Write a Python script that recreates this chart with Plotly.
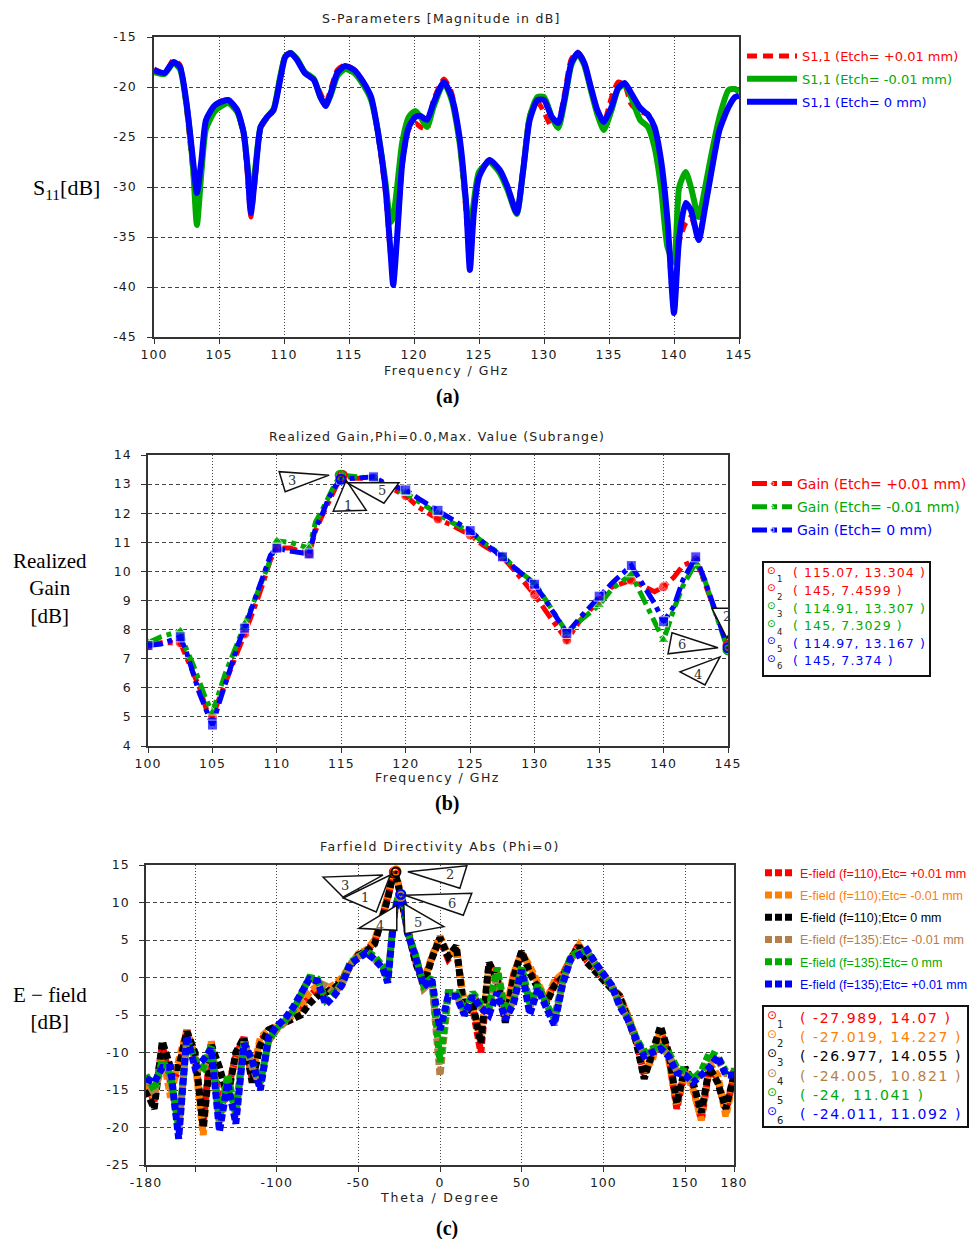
import plotly.graph_objects as go

W, H = 971, 1239


def px(x):
    return x / W


def py(y):
    return 1 - y / H


# ---------------- (a) S11 data ----------------
freq_a = [100, 100.8, 101.5, 102.0, 102.5, 103.0, 103.3, 103.65, 104.0, 104.7,
          105.7, 106.4, 106.9, 107.2, 107.45, 107.8, 108.2, 108.7, 109.2, 109.7,
          110.1, 110.5, 111.0, 111.6, 112.3, 112.8, 113.2, 113.6, 114.1, 114.7,
          115.4, 116.1, 116.7, 117.2, 117.8, 118.2, 118.4, 118.7, 119.1, 119.6,
          120.1, 120.5, 121.0, 121.5, 122.3, 122.9, 123.5, 124.0, 124.3, 124.6,
          125.0, 125.8, 126.6, 127.2, 127.9, 128.4, 128.9, 129.5, 130.0, 130.6,
          131.1, 131.6, 132.1, 132.6, 133.1, 133.6, 134.1, 134.6, 135.2, 135.7,
          136.2, 136.7, 137.4, 138.0, 138.5, 139.0, 139.5, 140.0, 140.4, 140.9,
          141.3, 141.9, 142.4, 142.9, 143.5, 144.2, 144.7, 145.0]
s11_plus = [-18.2, -18.6, -17.3, -17.8, -22.2, -28.5, -32.0, -28.0, -23.6, -21.7,
            -21.3, -22.4, -25.0, -29.0, -33.0, -29.0, -24.2, -23.1, -22.3, -19.0,
            -16.8, -16.6, -17.2, -18.5, -19.2, -20.6, -21.6, -20.2, -18.3, -17.8,
            -18.3, -19.5, -21.0, -24.5, -30.5, -36.8, -38.5, -35.0, -27.8, -24.2,
            -23.6, -24.0, -24.2, -21.3, -19.2, -20.6, -25.5, -32.5, -37.5, -32.0,
            -28.8, -27.3, -28.4, -30.0, -32.3, -28.0, -22.8, -21.5, -22.5, -24.0,
            -23.5, -20.5, -17.2, -16.5, -17.5, -20.0, -22.3, -23.5, -21.0, -19.5,
            -19.8, -21.7, -22.5, -22.7, -24.2, -27.5, -34.0, -42.5, -35.5, -33.6,
            -33.0, -35.0, -32.0, -28.3, -24.3, -22.0, -21.0, -20.9]
s11_minus = [-18.5, -18.7, -17.6, -18.2, -21.8, -28.0, -33.8, -28.5, -24.2, -22.4,
             -21.6, -22.5, -24.6, -28.0, -31.5, -28.0, -24.0, -23.0, -22.2, -19.0,
             -16.9, -16.6, -17.2, -18.5, -19.2, -21.0, -21.8, -20.8, -18.9, -18.2,
             -18.6, -19.8, -21.3, -24.3, -29.5, -33.5, -33.0, -30.0, -25.5, -23.0,
             -22.4, -23.0, -24.0, -22.0, -19.6, -21.3, -25.5, -31.5, -35.0, -31.5,
             -28.5, -27.5, -28.6, -30.3, -32.7, -28.3, -23.0, -21.0, -21.0, -23.0,
             -24.1, -21.3, -17.8, -16.7, -17.8, -20.3, -22.7, -24.3, -22.3, -20.2,
             -19.7, -21.0, -23.3, -24.0, -26.0, -30.0, -36.0, -37.5, -30.0, -28.5,
             -30.0, -33.0, -30.0, -26.6, -23.0, -20.3, -20.2, -20.5]
s11_zero = [-18.3, -18.6, -17.5, -18.0, -21.6, -27.3, -30.6, -27.3, -23.3, -21.8,
            -21.3, -22.3, -24.6, -28.3, -32.6, -28.6, -24.0, -23.0, -22.3, -19.3,
            -17.0, -16.6, -17.3, -18.6, -19.3, -21.0, -21.9, -20.6, -18.6, -17.9,
            -18.3, -19.5, -21.0, -24.3, -30.0, -36.6, -39.8, -35.0, -27.6, -24.0,
            -23.0, -22.9, -23.3, -21.6, -19.5, -21.0, -25.0, -31.6, -38.3, -32.6,
            -29.0, -27.3, -28.3, -30.0, -32.6, -28.3, -23.3, -21.3, -21.3, -23.0,
            -23.6, -21.0, -17.6, -16.6, -17.6, -20.0, -22.3, -23.5, -22.0, -20.1,
            -19.6, -20.6, -22.1, -22.8, -24.0, -27.3, -33.3, -42.6, -35.0, -31.6,
            -32.3, -35.3, -32.0, -28.3, -24.3, -22.0, -21.0, -20.9]
names_a = ["S1,1 (Etch= +0.01 mm)", "S1,1 (Etch= -0.01 mm)", "S1,1 (Etch= 0 mm)"]

# ---------------- (b) Realized gain data ----------------
freq_b = [100, 101, 102.5, 103, 103.5, 104, 104.5, 105, 105.5, 106,
          106.5, 107, 107.5, 108, 108.5, 109, 109.5, 110, 111, 112.5,
          113, 113.5, 114, 114.5, 115, 116, 117.5, 118.5, 120, 121,
          122.5, 123.5, 125, 126, 127.5, 128.5, 130, 131, 132.5, 133.5,
          135, 136, 137.5, 138.5, 139.3, 140, 140.8, 141.5, 142.5, 143.2,
          144, 145]
gain_plus = [7.45, 7.55, 7.55, 7.0, 6.5, 6.0, 5.3, 5.0, 5.6, 6.2,
             6.8, 7.3, 7.85, 8.4, 9.05, 9.7, 10.4, 10.8, 10.8, 10.6,
             11.4, 11.9, 12.4, 12.9, 13.30, 13.2, 13.2, 12.95, 12.6, 12.2,
             11.8, 11.6, 11.25, 10.9, 10.5, 10.0, 9.2, 8.55, 7.64, 8.3,
             9.0, 9.47, 9.7, 9.47, 9.3, 9.47, 9.8, 10.2, 10.4, 9.6,
             8.7, 7.46]
gain_minus = [7.55, 7.75, 7.95, 7.3, 6.8, 6.2, 5.6, 5.15, 5.9, 6.5,
              7.05, 7.6, 8.2, 8.7, 9.25, 9.8, 10.4, 11.05, 11.0, 10.8,
              11.7, 12.1, 12.6, 13.0, 13.31, 13.25, 13.2, 12.9, 12.7, 12.4,
              12.0, 11.7, 11.35, 11.0, 10.55, 10.1, 9.6, 8.9, 7.9, 8.3,
              8.84, 9.4, 9.9, 9.0, 8.3, 7.64, 8.7, 9.5, 10.3, 9.7,
              8.6, 7.30]
gain_zero = [7.45, 7.5, 7.75, 7.2, 6.5, 5.8, 5.25, 4.72, 5.45, 6.15,
             6.8, 7.5, 8.05, 8.65, 9.35, 9.9, 10.55, 10.8, 10.7, 10.6,
             11.5, 11.95, 12.5, 12.9, 13.17, 13.2, 13.25, 13.0, 12.8, 12.5,
             12.1, 11.8, 11.4, 11.0, 10.5, 10.1, 9.56, 8.9, 7.87, 8.4,
             9.15, 9.6, 10.2, 9.5, 8.9, 8.27, 8.8, 9.7, 10.5, 9.7,
             8.7, 7.37]
names_b = ["Gain (Etch= +0.01 mm)", "Gain (Etch= -0.01 mm)", "Gain (Etch= 0 mm)"]
mk_b_x = [115.07, 145, 114.91, 145, 114.97, 145]
mk_b_y = [13.304, 7.4599, 13.307, 7.3029, 13.167, 7.374]

# ---------------- (c) Farfield data ----------------
theta = [-180, -175, -170, -165, -160, -155, -150, -145, -140, -135,
         -130, -125, -120, -115, -110, -105, -100, -95, -90, -85,
         -80, -75, -70, -65, -60, -55, -50, -45, -40, -35,
         -32, -30, -28, -26, -24, -22, -20, -15, -10, -5,
         0, 5, 10, 15, 20, 25, 30, 35, 40, 45,
         50, 55, 60, 65, 70, 75, 80, 85, 90, 95,
         100, 105, 110, 115, 120, 125, 130, 135, 140, 145,
         150, 155, 160, 165, 170, 175, 180]
e110_p = [-14, -16.5, -9, -14, -12.5, -7, -10.5, -19.5, -8.5, -17,
          -15, -10.5, -8, -13.5, -8.5, -7, -6.5, -6, -5.5, -4.5,
          -2.5, -1.5, -2, -1.2, -0.3, 1.6, 3, 3.6, 4.8, 8.3,
          10.8, 12.8, 14.07, 12.9, 10.6, 8.6, 6.6, 2.2, -0.8, 2.6,
          5.2, 2.5, 3.8, -4, -4, -10, 1.8, 0, -5.5, 0.2,
          3.4, 1, -1.2, -3.2, -0.8, 0.3, 2.5, 4.4, 2.2, 1,
          -0.3, -1.3, -2.4, -5.2, -8.2, -13, -10.5, -7, -10.5, -17.5,
          -12.2, -14.5, -19, -12, -13.5, -18, -13]
e110_m = [-14.5, -16, -10, -16, -11, -7, -11, -21, -8.5, -19.5,
          -14, -11, -8.5, -13, -8, -7, -6.5, -6, -5, -4,
          -2, -1, -1.5, -1, 0, 1.8, 3.2, 3.7, 5, 8.5,
          11, 13, 14.2, 13, 10.8, 8.8, 6.8, 2.5, -0.5, 2.8,
          5.5, 3, 3.5, -3.5, -4, -8, 1.5, 0.5, -5, 0.5,
          3.3, 1.5, -1, -3, -0.5, 0.5, 2.5, 4.3, 2.5, 1,
          -0.2, -1.2, -2.5, -5, -8, -12.5, -11, -7, -11, -17,
          -12.5, -15, -19, -11.5, -13, -18.5, -13.5]
e110_0 = [-15, -17.5, -8.5, -12, -12, -7.2, -10, -20, -9, -12,
          -16, -10, -8, -14, -9, -7, -6.5, -6, -5.5, -5,
          -3.5, -2.5, -2, -1.5, -0.5, 1.5, 3, 3.5, 4.5, 8,
          10.5, 12.5, 14.05, 12.8, 10.5, 8.5, 6.5, 2, -1, 2.5,
          5.3, 2.8, 4.2, -5, -3.5, -8.7, 2, -0.3, -6, 0,
          3.5, 0.6, -1.6, -3.5, -1.1, 0, 2.4, 4.2, 2, 0.8,
          -0.5, -1.5, -2.5, -5.5, -8.5, -13.5, -10, -6.5, -10, -16.8,
          -12, -14, -18, -12, -14, -17.5, -13]
e135_m = [-13.5, -15.5, -11.5, -13.5, -20.5, -8.2, -11.5, -12.5, -9.5, -19.5,
          -13.5, -18.5, -8.5, -12, -14.5, -8.5, -7, -6, -4.5, -2.5,
          0, -0.5, -1.1, -2, -1, 1.8, 2.8, 3.3, 2.5, 1.5,
          0, 5.2, 8.6, 10.3, 10.82, 9.3, 6, 3, -1.5, -0.5,
          -13.1, -2.5, -2.3, -4.8, -2.2, -4, -4.5, 0.5, -5, -3.2,
          1.2, -4, -1.2, -3.8, -6, -0.8, 2.6, 3.3, 3.5, 1.8,
          0.3, -1, -3.6, -5.5, -8.2, -10.3, -9.8, -9.3, -10.3, -12.5,
          -12.8, -13.8, -12.8, -11, -11, -12.8, -12.8]
e135_0 = [-13, -15, -11, -13, -20, -8, -11, -12, -9, -19,
          -13, -18, -8.5, -11.5, -14, -8.5, -6.8, -5.8, -4.5, -2.2,
          0, -0.2, -3, -2, -0.8, 2, 2.8, 3.5, 2.8, 1.5,
          -0.3, 5.5, 8.8, 10.5, 11.04, 9.6, 6.2, 3, -1, 0,
          -11.3, -2, -2, -4.5, -2, -3.5, -4, 1.3, -4.5, -3,
          1.5, -3.5, -1, -3.5, -5.5, -0.5, 2.8, 3.5, 3.5, 1.8,
          0.2, -1.2, -3.5, -5.3, -8, -10, -9.5, -9.2, -10, -12,
          -12.5, -13.5, -12.5, -10, -10.5, -12.5, -12.5]
e135_p = [-13.5, -14, -12, -12, -21.5, -7.8, -12, -11, -9.5, -20.5,
          -14, -19.5, -8.8, -11, -15, -8, -6.5, -5.5, -4, -2,
          -0.2, -0.5, -3.6, -2.5, -1, 1.8, 2.5, 3.3, 2.4, 1.2,
          -0.7, 5, 8.5, 10.3, 11.09, 9.5, 6, 2.8, -1.2, -0.3,
          -7, -2.5, -2.5, -5, -2.5, -4, -5, -2, -5.6, -3.5,
          1.0, -4.9, -1.5, -4, -6.3, -1, 2.5, 3, 3.7, 2,
          0.4, -1, -3.8, -5.6, -8.2, -10.5, -10, -9.5, -10.5, -12.7,
          -13, -14, -13, -12, -10.5, -13, -13]
names_c = ["E-field (f=110),Etc= +0.01 mm", "E-field (f=110);Etc= -0.01 mm",
           "E-field (f=110);Etc= 0 mm", "E-field (f=135):Etc= -0.01 mm",
           "E-field (f=135):Etc= 0 mm", "E-field (f=135);Etc= +0.01 mm"]
mk_c_x = [-27.989, -27.019, -26.977, -24.005, -24, -24.011]
mk_c_y = [14.07, 14.227, 14.055, 10.821, 11.041, 11.092]

# ---------------- styles ----------------
RED, GREEN, BLUE = "#FF0000", "#00AA00", "#0000FF"
ORANGE, BLACK, BROWN = "#FF8000", "#000000", "#B4804A"
cols_a = [RED, GREEN, BLUE]
cols_b = [RED, GREEN, BLUE]
cols_c = [RED, ORANGE, BLACK, BROWN, GREEN, BLUE]
mkcols_b = [RED, RED, GREEN, GREEN, BLUE, BLUE]
TICKFONT = dict(family="DejaVu Sans", size=12.5, color="#1a1a1a")
SANS = "DejaVu Sans"
SERIF = "Liberation Serif"


def span(text, color):
    return "<span style='color:%s'>%s</span>" % (color, text)


def wide(text, ls=1.2):
    return "<span style='letter-spacing:%gpx'>%s</span>" % (ls, text)


fig = go.Figure()

# (a)
for k, (ys, nm, c, dash, w) in enumerate(zip([s11_plus, s11_minus, s11_zero], names_a, cols_a,
                                             ["10px,6px", "solid", "solid"], [5, 6, 6])):
    fig.add_trace(go.Scatter(x=freq_a, y=ys, mode="lines", name=span(nm, c),
                             legendgroup="a%d" % k,
                             line=dict(color=c, width=w, dash=dash, shape="spline", smoothing=0.6),
                             xaxis="x", yaxis="y", legend="legend"))

# (b)
msize = [10 if abs(f / 2.5 - round(f / 2.5)) < 1e-6 else 0 for f in freq_b]
for k, (ys, nm, c, sym) in enumerate(zip([gain_plus, gain_minus, gain_zero], names_b, cols_b,
                                         ["circle", "triangle-up", "square"])):
    fig.add_trace(go.Scatter(x=freq_b, y=ys, mode="lines+markers", name=span(nm, c),
                             legendgroup="b%d" % k,
                             line=dict(color=c, width=5, dash="dashdot"),
                             marker=dict(symbol=sym, size=msize, color=c),
                             xaxis="x2", yaxis="y2", legend="legend2"))
fig.add_trace(go.Scatter(x=mk_b_x, y=mk_b_y, mode="markers", showlegend=False,
                         marker=dict(symbol="circle-open-dot", size=9, color=mkcols_b,
                                     line=dict(width=2, color=mkcols_b)),
                         xaxis="x2", yaxis="y2"))

# (c)
for k, (ys, nm, c) in enumerate(zip([e110_p, e110_m, e110_0, e135_m, e135_0, e135_p], names_c, cols_c)):
    fig.add_trace(go.Scatter(x=theta, y=ys, mode="lines", name=span(nm, c),
                             legendgroup="c%d" % k,
                             line=dict(color=c, width=7, dash="7px,3px"),
                             xaxis="x3", yaxis="y3", legend="legend3"))
fig.add_trace(go.Scatter(x=mk_c_x, y=mk_c_y, mode="markers", showlegend=False,
                         marker=dict(symbol="circle-open-dot", size=9, color=cols_c,
                                     line=dict(width=2, color=cols_c)),
                         xaxis="x3", yaxis="y3"))


def axis(domain, rng, tickvals, anchor, griddash, minor=None, standoff=None):
    d = dict(domain=domain, range=rng, tickvals=tickvals,
             ticktext=[wide("%g" % v, 1.0) for v in tickvals],
             anchor=anchor, automargin=False,
             showline=True, linecolor="#333", linewidth=1.5, mirror=True,
             ticks="outside", ticklen=5, tickcolor="#333",
             showgrid=True, gridcolor="#444", gridwidth=1, griddash=griddash,
             zeroline=False, tickfont=TICKFONT, fixedrange=True)
    if standoff is not None:
        d["ticklabelstandoff"] = standoff
    if minor is not None:
        d["minor"] = dict(tickvals=minor, showgrid=True, gridcolor="#444", gridwidth=1,
                          griddash=griddash, ticks="outside", ticklen=5, tickcolor="#333")
    return d


xt_f = list(range(100, 146, 5))
fig.update_layout(
    xaxis=axis([px(154), px(739)], [100, 145], xt_f, "y", "1px,2px"),
    yaxis=axis([py(337), py(37)], [-45, -15], list(range(-45, -14, 5)), "x", "4px,3px", standoff=8),
    xaxis2=axis([px(148), px(728)], [100, 145], xt_f, "y2", "1px,2px"),
    yaxis2=axis([py(746), py(455)], [4, 14], list(range(4, 15)), "x2", "4px,3px", standoff=7),
    xaxis3=axis([px(146), px(734)], [-180, 180], [-180, -100, -50, 0, 50, 100, 150, 180], "y3",
                "1px,2px", minor=[-150]),
    yaxis3=axis([py(1165), py(865)], [-25, 15], list(range(-25, 16, 5)), "x3", "4px,3px", standoff=7),
)

fig.update_layout(
    width=W, height=H, autosize=False,
    margin=dict(l=0, r=0, t=0, b=0, pad=0, autoexpand=False),
    paper_bgcolor="white", plot_bgcolor="white",
    legend=dict(x=px(742), y=py(41), xanchor="left", yanchor="top", itemwidth=50,
                tracegroupgap=3,
                bgcolor="rgba(0,0,0,0)", font=dict(family=SANS, size=13)),
    legend2=dict(x=px(747), y=py(468), xanchor="left", yanchor="top", itemwidth=40,
                 tracegroupgap=2,
                 bgcolor="rgba(0,0,0,0)", font=dict(family=SANS, size=14)),
    legend3=dict(x=px(760), y=py(858), xanchor="left", yanchor="top", itemwidth=30,
                 tracegroupgap=3,
                 bgcolor="rgba(0,0,0,0)", font=dict(family="Liberation Sans", size=12.5)),
)

ann = []
shapes = []


def label(x, y, text, size=12, family=SANS, color="#222", xanchor="center"):
    ann.append(dict(x=px(x), y=py(y), xref="paper", yref="paper", text=text, showarrow=False,
                    xanchor=xanchor, yanchor="middle", font=dict(family=family, size=size, color=color)))


label(441, 18, wide("S-Parameters [Magnitude in dB]", 1.3), size=12.5)
label(446, 370, wide("Frequency / GHz", 1.5), size=12.5)
label(447, 396, "<b>(a)</b>", size=20, family=SERIF, color="#000")
label(437, 436, wide("Realized Gain,Phi=0.0,Max. Value (Subrange)", 1.2), size=12.5)
label(437, 777, wide("Frequency / GHz", 1.5), size=12.5)
label(447, 803, "<b>(b)</b>", size=20, family=SERIF, color="#000")
label(440, 846, wide("Farfield Directivity Abs (Phi=0)", 1.5), size=12.5)
label(440, 1197, wide("Theta / Degree", 1.8), size=12.5)
label(447, 1228, "<b>(c)</b>", size=20, family=SERIF, color="#000")
label(66, 189, "S<sub>11</sub>[dB]", size=22, family=SERIF, color="#000")
label(50, 588, "Realized<br>Gain<br>[dB]", size=21, family=SERIF, color="#000")
label(50, 1008, "E − field<br>[dB]", size=21, family=SERIF, color="#000")

# marker callout triangles (pixel offsets from marker point, screen y down)
tri_b = [[(4, 5), (-9, 36), (24, 35)], [(-16, -37), (12, -37), (-1, -7)],
         [(-11, 0), (-61, -3.5), (-55, 16.5)], [(-8, 7), (-48, 22), (-23, 35)],
         [(6, 3.5), (58, 3.5), (43, 24)], [(-56, -15), (-10, 0), (-60, 6)]]
lab_b = [(6, 30), (-1, -29), (-48, 5), (-30, 25), (41, 11), (-46, -3)]
tri_c = [[(-51, 26), (-18, 40), (-4, 3)], [(12, 1), (71, -5), (64, 17.5)],
         [(-73, 5), (-53, 25), (-13, 3)], [(-4, 9), (-42, 32), (-4, 34)],
         [(3, 9), (4, 39), (43, 32)], [(4, 1), (71, -1), (62.5, 21)]]
lab_c = [(-29, 26), (54, 4), (-51, 13), (-21, 29), (17, 28), (51, 9)]


def add_callouts(mx, my, tris, labs, xr, yr):
    for i, (x, y) in enumerate(zip(mx, my)):
        pts = tris[i]
        path = "M %g,%g L %g,%g L %g,%g Z" % (pts[0][0], -pts[0][1], pts[1][0], -pts[1][1],
                                             pts[2][0], -pts[2][1])
        shapes.append(dict(type="path", xref=xr, yref=yr, xsizemode="pixel", ysizemode="pixel",
                           xanchor=x, yanchor=y, path=path, fillcolor="white",
                           line=dict(color="#111", width=1.5), layer="above"))
        ann.append(dict(x=x, y=y, xref=xr, yref=yr, text=str(i + 1), showarrow=False,
                        xshift=labs[i][0], yshift=-labs[i][1],
                        font=dict(family="DejaVu Serif", size=13, color="#333")))


add_callouts(mk_b_x, mk_b_y, tri_b, lab_b, "x2", "y2")
add_callouts(mk_c_x, mk_c_y, tri_c, lab_c, "x3", "y3")


# marker value tables
def table(mx, my, colors, box, row0, dy, symx, textx, size, ls):
    x0, y0, x1, y1 = box
    shapes.append(dict(type="rect", xref="paper", yref="paper", x0=px(x0), x1=px(x1),
                       y0=py(y1), y1=py(y0), line=dict(color="#111", width=2),
                       fillcolor="white", layer="above"))
    for i, (x, y) in enumerate(zip(mx, my)):
        ry = row0 + i * dy
        c = colors[i]
        label(symx, ry - 3, "⊙", size=size - 2, color=c)
        label(symx + 8, ry + 6, str(i + 1), size=size - 4, color="#222")
        label(textx, ry, wide("( %g, %g )" % (x, y), ls), size=size, color=c, xanchor="left")


table(mk_b_x, mk_b_y, mkcols_b, (763, 562, 930, 676), 573, 17.5, 771, 791, 12.5, 1.1)
table(mk_c_x, mk_c_y, cols_c, (763, 1006, 968, 1127), 1018, 19.2, 772, 798, 14, 1.6)

fig.update_layout(annotations=ann, shapes=shapes)
fig.write_html("out.html",
               post_script="document.body.style.margin='0';document.body.style.overflow='hidden';")
